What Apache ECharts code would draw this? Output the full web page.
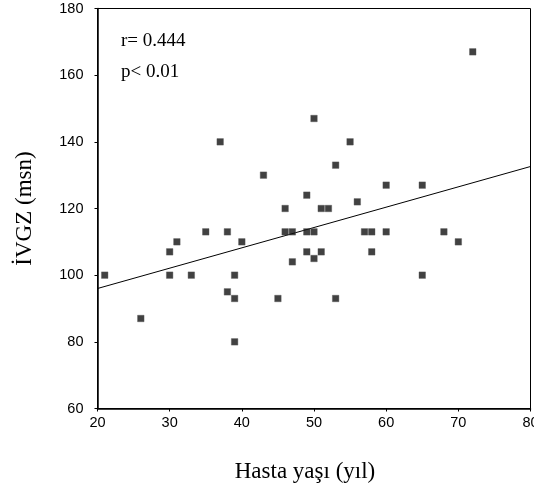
<!DOCTYPE html>
<html>
<head>
<meta charset="utf-8">
<script src="https://cdn.jsdelivr.net/npm/echarts@6/dist/echarts.min.js"></script>
<style>html,body{margin:0;padding:0;background:#fff;}#c{width:534px;height:493px;}</style>
</head>
<body>
<div id="c"></div>
<script>
// Data
var ages = [21,26,30,30,31,33,35,37,38,38,39,39,39,40,43,45,46,46,47,47,49,49,49,50,50,50,51,51,52,53,53,55,56,57,58,58,60,60,65,65,68,70,72];
var ivgz = [100,87,107,100,110,100,113,140,113,95,100,93,80,110,130,93,120,113,113,104,124,113,107,147,113,105,120,107,120,133,93,140,122,113,113,107,127,113,127,100,113,110,167];
var fitX = [20, 80];
var fitY = [96, 132.6];
var xTicks = [20,30,40,50,60,70,80];
var yTicks = [60,80,100,120,140,160,180];
var statLines = ['r= 0.444', 'p< 0.01'];
var xTitle = 'Hasta yaşı (yıl)';
var yTitle = 'İVGZ (msn)';

var pts = ages.map(function(a,i){return [a, ivgz[i]];});
var fit = fitX.map(function(x,i){return [x, fitY[i]];});

var chart = echarts.init(document.getElementById('c'), null, {renderer:'canvas'});
var axisFont = {fontFamily:'Liberation Sans, Arial, sans-serif', fontSize:14.5, color:'#000'};
var serif = 'Liberation Serif, Times New Roman, serif';
chart.setOption({
  animation:false,
  backgroundColor:'#fff',
  grid:{left:97.5, right:3.5, top:8.5, bottom:84.5, show:true, borderColor:'#000', borderWidth:1, backgroundColor:'transparent', containLabel:false, outerBoundsMode:'none'},
  title:[
    {text:statLines[0], left:116, top:27, textStyle:{fontFamily:serif, fontSize:19, fontWeight:'normal', color:'#000'}},
    {text:statLines[1], left:116, top:58, textStyle:{fontFamily:serif, fontSize:19, fontWeight:'normal', color:'#000'}}
  ],
  xAxis:{
    type:'value', min:xTicks[0], max:xTicks[xTicks.length-1], interval:10,
    name:xTitle, nameLocation:'middle', nameGap:52,
    nameTextStyle:{fontFamily:serif, fontSize:23, color:'#000', padding:[0,18,0,0]},
    axisLine:{show:true, onZero:false, lineStyle:{color:'#000', width:1.5}},
    axisTick:{show:true, length:3, lineStyle:{color:'#000'}},
    axisLabel:Object.assign({margin:7, showMaxLabel:true, showMinLabel:true}, axisFont),
    splitLine:{show:false}
  },
  yAxis:{
    type:'value', min:yTicks[0], max:yTicks[yTicks.length-1], interval:20,
    name:yTitle, nameLocation:'middle', nameGap:61,
    nameTextStyle:{fontFamily:serif, fontSize:23, color:'#000'},
    axisLine:{show:true, onZero:false, lineStyle:{color:'#000', width:1.5}},
    axisTick:{show:true, length:3, lineStyle:{color:'#000'}},
    axisLabel:Object.assign({margin:14}, axisFont),
    splitLine:{show:false}
  },
  series:[
    {type:'line', data:fit, showSymbol:false, symbol:'none', lineStyle:{color:'#000', width:1}, silent:true, z:1},
    {type:'scatter', data:pts, symbol:'rect', symbolSize:6.5, itemStyle:{color:'#111', borderColor:'#555', borderWidth:0.5}, z:2}
  ]
});
</script>
</body>
</html>
